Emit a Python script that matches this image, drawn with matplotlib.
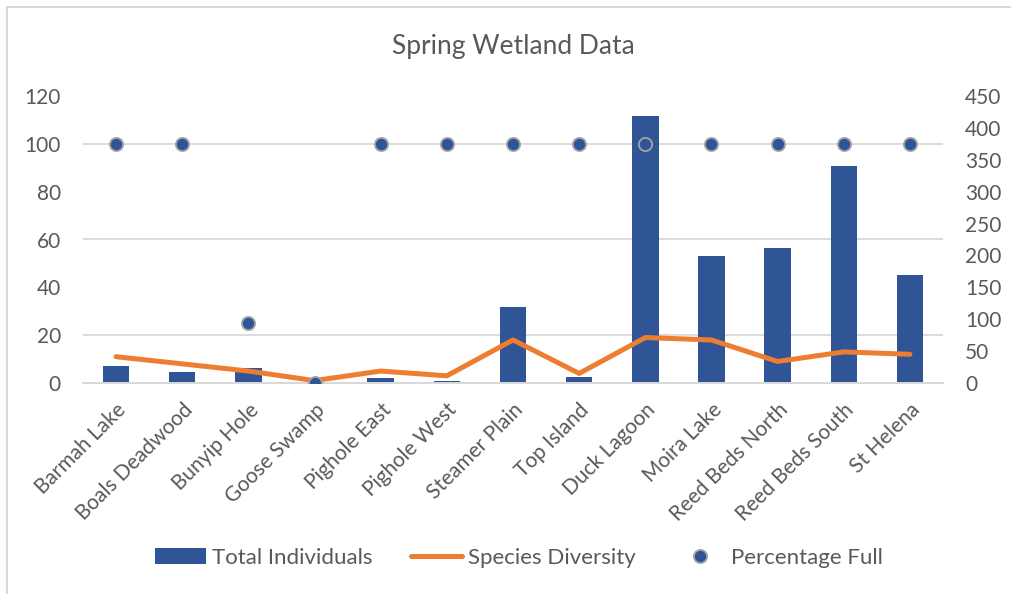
import numpy as np
import matplotlib
matplotlib.use('Agg')
import matplotlib.pyplot as plt
import matplotlib.transforms as mtransforms
from matplotlib.patches import Rectangle, Patch
from matplotlib.lines import Line2D

plt.rcParams['font.family'] = ['Lato', 'DejaVu Sans']

CATEGORIES = [
    'Barmah Lake', 'Boals Deadwood', 'Bunyip Hole', 'Goose Swamp',
    'Pighole East', 'Pighole West', 'Steamer Plain', 'Top Island',
    'Duck Lagoon', 'Moira Lake', 'Reed Beds North', 'Reed Beds South',
    'St Helena',
]
TOTAL_INDIVIDUALS = [26, 17, 23, 0, 8, 3, 119, 9, 418, 199, 211, 340, 169]
SPECIES_DIVERSITY = [11, 8, 5, 1, 5, 3, 18, 4, 19, 18, 9, 13, 12]
PERCENTAGE_FULL = [100, 100, 25, 0, 100, 100, 100, 100, 100, 100, 100, 100, 100]

LEFT_TICKS = np.arange(0, 121, 20)
RIGHT_TICKS = np.arange(0, 451, 50)

BLUE = '#2F5597'
ORANGE = '#ED7D31'
GRID = '#D9D9D9'
TEXT = '#595959'

W, H = 1011, 594
fig = plt.figure(figsize=(W / 100, H / 100), dpi=100)

# chart border (only top and left edges fall inside the canvas)
fig.patches.append(Rectangle((7 / W, -0.1), 1.2, 1 - 7 / H + 0.1,
                             transform=fig.transFigure, fill=False,
                             edgecolor=GRID, lw=1.5))

rect = [83 / W, 1 - 383 / H, (943 - 83) / W, (383 - 96) / H]
ax_bar = fig.add_axes(rect)
ax = ax_bar.twinx()

x = np.arange(len(CATEGORIES))

# bars on the secondary (right) scale
ax_bar.bar(x, TOTAL_INDIVIDUALS, width=0.4, color=BLUE, zorder=2)
ax_bar.set_ylim(0, 450)
ax_bar.set_yticks(RIGHT_TICKS)
ax_bar.yaxis.tick_right()
# gridlines follow the primary scale, drawn behind the bars
ax_bar.set_yticks(LEFT_TICKS * 450 / 120, minor=True)
ax_bar.grid(True, which='minor', axis='y', color=GRID, lw=1.3, zorder=0)
ax_bar.tick_params(axis='y', which='minor', length=0)

ax.plot(x, SPECIES_DIVERSITY, color=ORANGE, lw=3.6, solid_capstyle='round',
        solid_joinstyle='round', zorder=3)
ax.plot(x, PERCENTAGE_FULL, linestyle='none', marker='o', markersize=9.5,
        markerfacecolor=BLUE, markeredgecolor='#A5A5A5', markeredgewidth=1.3,
        zorder=4)
ax.set_ylim(0, 120)
ax.set_yticks(LEFT_TICKS)
ax.yaxis.tick_left()

ax_bar.set_xlim(-0.5, len(CATEGORIES) - 0.5)
ax_bar.set_xticks(x)
ax_bar.set_xticklabels(CATEGORIES, rotation=45, ha='right',
                       rotation_mode='anchor', fontsize=15, color=TEXT)
# nudge the slanted labels a little to the right
shift = mtransforms.ScaledTranslation(5 / 100, 0, fig.dpi_scale_trans)
for lbl in ax_bar.get_xticklabels():
    lbl.set_transform(lbl.get_transform() + shift)

for a in (ax, ax_bar):
    for side in ('top', 'left', 'right'):
        a.spines[side].set_visible(False)
    a.spines['bottom'].set_color(GRID)
    a.spines['bottom'].set_linewidth(1.3)
    a.tick_params(axis='y', which='major', length=0, pad=16,
                  labelsize=15, labelcolor=TEXT)
    a.tick_params(axis='x', length=0, pad=12)

ax.set_title('Spring Wetland Data', fontsize=19, color=TEXT, pad=30)

handles = [
    Patch(facecolor=BLUE, edgecolor='none'),
    Line2D([], [], color=ORANGE, lw=3.6, solid_capstyle='round'),
    Line2D([], [], linestyle='none', marker='o', markersize=9.5,
           markerfacecolor=BLUE, markeredgecolor='#A5A5A5',
           markeredgewidth=1.3),
]
labels = ['Total Individuals', 'Species Diversity', 'Percentage Full']
fig.legend(handles, labels, loc='center',
           bbox_to_anchor=(519 / W, 1 - 558 / H),
           ncol=3, frameon=False, fontsize=16, labelcolor=TEXT,
           handlelength=2.3, handletextpad=0.25, columnspacing=1.75)

fig.savefig('out.png', dpi=100)
